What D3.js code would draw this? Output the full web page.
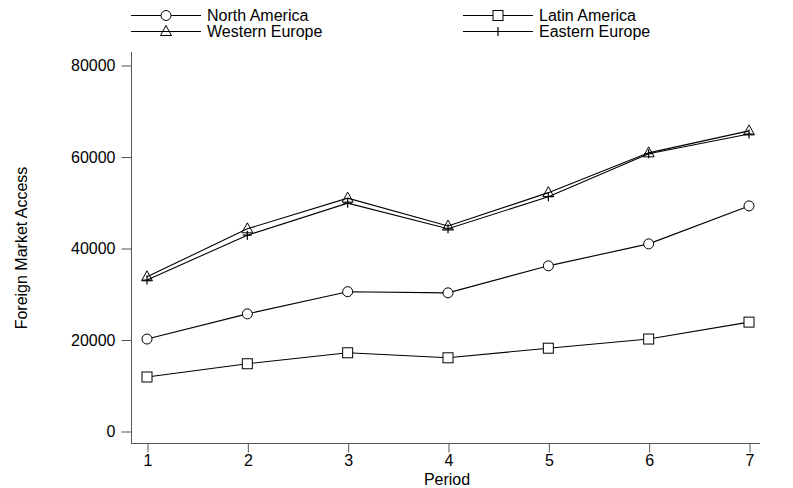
<!DOCTYPE html>
<html><head><meta charset="utf-8">
<script src="https://cdn.jsdelivr.net/npm/d3@7"></script>
<style>body{margin:0;background:#fff}text{font-family:"Liberation Sans",Arial,sans-serif;fill:#000}</style>
</head><body><svg id="c" width="793" height="488"></svg>
<script>
const periods = [1,2,3,4,5,6,7];
const yTicks = [0,20000,40000,60000,80000];
const northAmerica = [20100,25600,30450,30200,36100,40900,49200];
const latinAmerica = [11800,14700,17100,16000,18100,20100,23800];
const westernEurope = [33700,44200,50900,44800,52100,60800,65600];
const easternEurope = [33000,42800,49800,44200,51200,60600,64900];
const seriesNames = ["North America","Latin America","Western Europe","Eastern Europe"];
const seriesValues = [northAmerica, latinAmerica, westernEurope, easternEurope];
const seriesMarkers = ["circle","square","triangle","plus"];

const FS = "16px";
const svg = d3.select("#c");
const x = d3.scaleLinear().domain([1,7]).range([147,749]);
const y = d3.scaleLinear().domain([0,80000]).range([431,65]);
const axisColor = "#555";

svg.append("line").attr("x1",131.5).attr("x2",131.5).attr("y1",52).attr("y2",443.5).attr("stroke",axisColor);
svg.append("line").attr("x1",131).attr("x2",760).attr("y1",443.5).attr("y2",443.5).attr("stroke",axisColor);

const yAxis = d3.axisLeft(y).tickValues(yTicks).tickSize(10).tickPadding(6).tickFormat(d3.format("d"));
const gy = svg.append("g").attr("transform","translate(131.5,0.5)").call(yAxis);
gy.select(".domain").remove();
gy.selectAll(".tick line").attr("stroke",axisColor);
gy.selectAll(".tick text").style("font-size",FS).attr("fill","#000").attr("font-family","Liberation Sans, Arial, sans-serif");

const xAxis = d3.axisBottom(x).tickValues(periods).tickSize(9).tickPadding(2).tickFormat(d3.format("d"));
const gx = svg.append("g").attr("transform","translate(0.5,443.5)").call(xAxis);
gx.select(".domain").remove();
gx.selectAll(".tick line").attr("stroke",axisColor);
gx.selectAll(".tick text").style("font-size",FS).attr("fill","#000").attr("font-family","Liberation Sans, Arial, sans-serif");

svg.append("text").attr("x",447).attr("y",485).attr("text-anchor","middle").style("font-size",FS).text("Period");
svg.append("text").attr("transform","translate(27,248) rotate(-90)").attr("text-anchor","middle").style("font-size",FS).text("Foreign Market Access");

function marker(g, type, cx, cy){
  if(type==="circle") g.append("circle").attr("cx",cx).attr("cy",cy).attr("r",5).attr("fill","#fff").attr("stroke","#000");
  else if(type==="square") g.append("rect").attr("x",cx-5).attr("y",cy-5).attr("width",10).attr("height",10).attr("fill","#fff").attr("stroke","#000");
  else if(type==="triangle") g.append("path").attr("d",`M${cx},${cy-6}L${cx+5.5},${cy+4}L${cx-5.5},${cy+4}Z`).attr("fill","none").attr("stroke","#000");
  else if(type==="plus") g.append("path").attr("d",`M${cx-4.5},${cy}H${cx+4.5}M${cx},${cy-4.5}V${cy+4.5}`).attr("fill","none").attr("stroke","#000").attr("stroke-width",1.2);
}

const line = d3.line().x((d,i)=>x(periods[i])).y(d=>y(d));
seriesValues.forEach((vals,si)=>{
  const g = svg.append("g");
  g.append("path").attr("d",line(vals)).attr("fill","none").attr("stroke","#000").attr("stroke-width",1.1);
  vals.forEach((v,i)=>marker(g, seriesMarkers[si], x(periods[i]), y(v)));
});

const legPos = [[131,15],[463,15],[131,31],[463,31]];
seriesNames.forEach((name,i)=>{
  const [lx,ly] = legPos[i];
  const g = svg.append("g");
  g.append("line").attr("x1",lx).attr("x2",lx+70).attr("y1",ly+0.5).attr("y2",ly+0.5).attr("stroke","#000");
  marker(g, seriesMarkers[i], lx+35, ly+0.5);
  g.append("text").attr("x",lx+76).attr("y",ly+6).style("font-size",FS).text(name);
});
</script></body></html>
